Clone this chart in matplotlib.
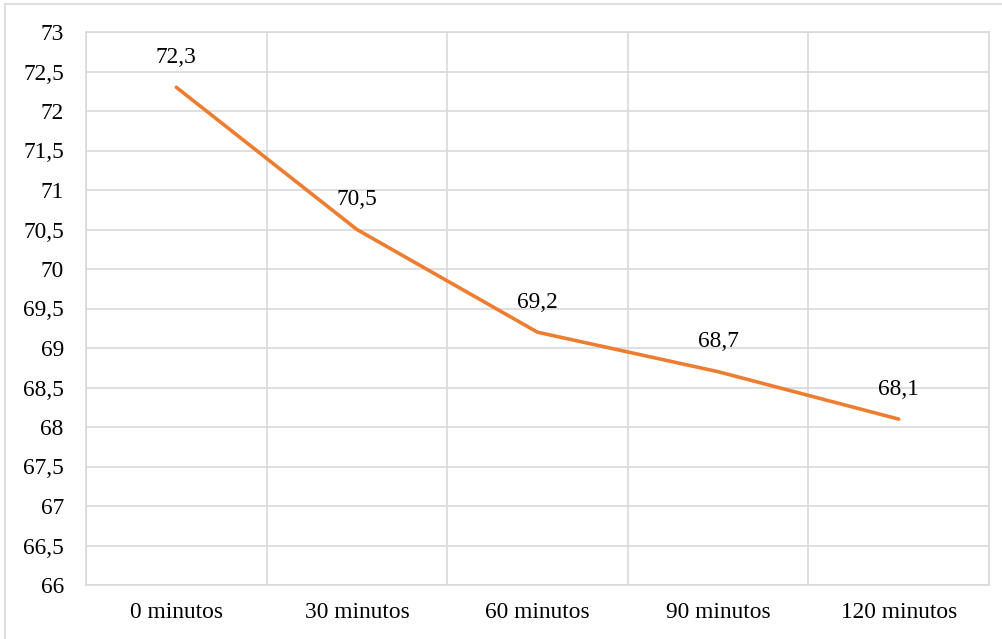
import matplotlib
matplotlib.use('Agg')

import numpy as np
import matplotlib.pyplot as plt
from matplotlib.lines import Line2D

# Data
categories = ['0 minutos', '30 minutos', '60 minutos', '90 minutos', '120 minutos']
values = [72.3, 70.5, 69.2, 68.7, 68.1]
y_ticks = [66, 66.5, 67, 67.5, 68, 68.5, 69, 69.5, 70, 70.5, 71, 71.5, 72, 72.5, 73]

plt.rcParams['font.family'] = ['Liberation Serif', 'DejaVu Serif']
FS = 16.8

W, H = 1003, 639
fig = plt.figure(figsize=(W / 100, H / 100), dpi=100)
ax = fig.add_axes([86 / W, 1 - 585 / H, (989 - 86) / W, (585 - 32) / H])

x = np.arange(len(categories))
ax.plot(x, values, color='#ED7D31', lw=2.6, solid_capstyle='round', zorder=3)

for xi, v in zip(x, values):
    ax.annotate(f'{v:.1f}'.replace('.', ','), (xi, v), xytext=(0, 21.5),
                textcoords='offset points', ha='center', va='center', fontsize=FS)

ax.set_xlim(-0.5, len(categories) - 0.5)
ax.set_ylim(66, 73)
ax.set_xticks(x)
ax.set_xticklabels(categories, fontsize=FS)
ax.set_xticks(np.arange(len(categories) + 1) - 0.5, minor=True)
ax.set_yticks(y_ticks)
ax.set_yticklabels([f'{t:g}'.replace('.', ',') for t in y_ticks], fontsize=FS)

ax.tick_params(axis='both', which='both', length=0)
ax.tick_params(axis='y', pad=16)
ax.tick_params(axis='x', pad=12)
ax.grid(axis='y', which='major', color='#D9D9D9', lw=1.2)
ax.grid(axis='x', which='minor', color='#D9D9D9', lw=1.2)
ax.grid(axis='x', which='major', visible=False)
for s in ax.spines.values():
    s.set_color('#D9D9D9')
    s.set_linewidth(1.2)
ax.set_axisbelow(True)

# chart outer border (top and left visible)
fig.add_artist(Line2D([5 / W, 5 / W], [0, 1 - 3.5 / H], color='#D9D9D9', lw=1.2))
fig.add_artist(Line2D([5 / W, 1], [1 - 3.5 / H, 1 - 3.5 / H], color='#D9D9D9', lw=1.2))

plt.savefig('out.png', dpi=100)
